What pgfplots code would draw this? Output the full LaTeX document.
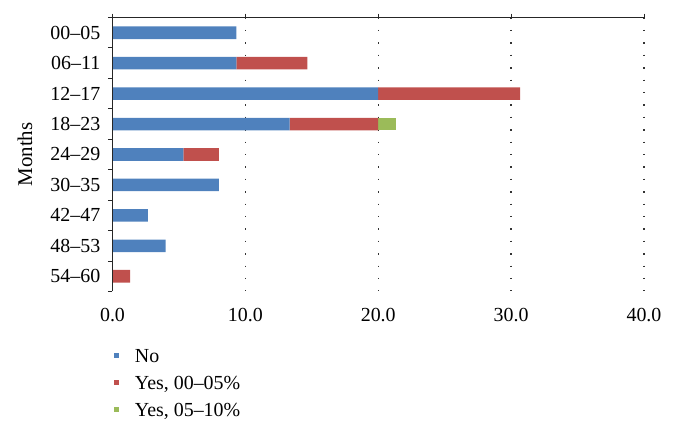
\documentclass[border=0pt]{standalone}
\usepackage{fontspec}
\setmainfont{Liberation Serif}
\usepackage{pgfplots}
\pgfplotsset{compat=1.18}
\definecolor{cNo}{HTML}{4F81BD}
\definecolor{cYa}{HTML}{C0504D}
\definecolor{cYb}{HTML}{9BBB59}
\pgfplotsset{sqleg/.style={legend image code/.code={\fill[##1] (0bp,-2.6bp) rectangle (5.2bp,2.6bp);}}}
\begin{document}
\begin{tikzpicture}[font=\fontsize{20}{24}\selectfont]
\begin{axis}[
  name=ax,
  scale only axis, width=531.5bp, height=274bp,
  xbar stacked, bar width=12.6bp,
  xmin=0, xmax=40, ymin=-0.5, ymax=8.5, y dir=reverse,
  xtick={0,10,20,30,40}, xticklabels={0.0,10.0,20.0,30.0,40.0},
  ytick={0,1,2,3,4,5,6,7,8},
  yticklabels={00--05,06--11,12--17,18--23,24--29,30--35,42--47,48--53,54--60},
  minor ytick={-0.5,0.5,1.5,2.5,3.5,4.5,5.5,6.5,7.5,8.5},
  xtick pos=right, xticklabel pos=left, ytick pos=left,
  tick align=outside, major tick length=4bp, minor tick length=4.5bp,
  major y tick style={draw=none},
  minor y tick style={draw=black!85, line width=1bp},
  major x tick style={draw=black!85, line width=1bp},
  axis line style={draw=none},
  xmajorgrids, grid style={black!80, line width=1.4bp, dash pattern=on 1.4bp off 11bp},
  xticklabel style={anchor=base, inner sep=0pt, yshift=-26bp},
  yticklabel style={anchor=east, inner sep=0pt, xshift=-8bp},
  ylabel=Months,
  ylabel style={at={(axis description cs:-0.1646,0.5)}, anchor=center, rotate=0, font=\fontsize{21}{24}\selectfont},
  legend style={draw=none, fill=none, inner sep=0pt, at={(axis description cs:0,0)}, anchor=north west,
    xshift=1bp, yshift=-57bp, row sep=13bp,
    nodes={inner sep=0pt, text height=13.5bp, text depth=0.5bp},
    /tikz/every odd column/.append style={column sep=16bp}},
  legend cell align=left,
]
\addplot[fill=cNo, draw=none, sqleg] coordinates {(9.33,0) (9.33,1) (20,2) (13.33,3) (5.33,4) (8,5) (2.67,6) (4,7) (0,8)};
\addplot[fill=cYa, draw=none, sqleg] coordinates {(0,0) (5.33,1) (10.67,2) (6.67,3) (2.67,4) (0,5) (0,6) (0,7) (1.33,8)};
\addplot[fill=cYb, draw=none, sqleg] coordinates {(0,0) (0,1) (0,2) (1.33,3) (0,4) (0,5) (0,6) (0,7) (0,8)};
\legend{No, {Yes, 00--05\%}, {Yes, 05--10\%}}
\end{axis}
\draw[black!85, line width=1.4bp] (ax.north west) -- (ax.north east);
\draw[black!85, line width=1.4bp] (ax.south west) -- (ax.north west);
\pgfresetboundingbox
\path ([xshift=-112.5bp, yshift=-138.3bp]ax.south west) rectangle ([xshift=31bp, yshift=17.5bp]ax.north east);
\end{tikzpicture}
\end{document}
